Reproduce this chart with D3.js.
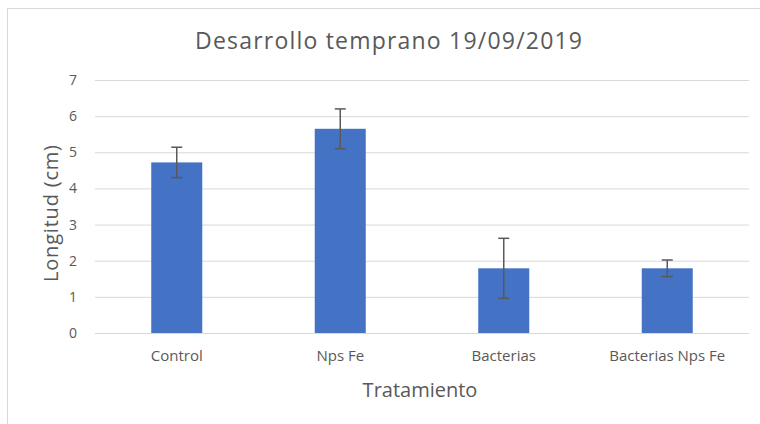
<!DOCTYPE html>
<html>
<head>
<meta charset="utf-8">
<script src="https://cdn.jsdelivr.net/npm/d3@7"></script>
<style>
  body { margin: 0; background: #fff; overflow: hidden; }
  svg { font-family: "Open Sans", sans-serif; display: block; }
</style>
</head>
<body>
<svg></svg>
<script>
const width = 760;
const height = 424;

// data
const categories = ["Control", "Nps Fe", "Bacterias", "Bacterias Nps Fe"];
const means = [4.72, 5.65, 1.79, 1.79];
const errors = [0.42, 0.55, 0.83, 0.23];
const yTicks = [0, 1, 2, 3, 4, 5, 6, 7];

const plotLeft = 95;
const plotRight = 749;
const plotTop = 80;
const plotBottom = 333;

const svg = d3.select("svg")
  .attr("width", width)
  .attr("height", height);

// chart frame
svg.append("rect")
  .attr("x", 7.5)
  .attr("y", 8.5)
  .attr("width", width)
  .attr("height", height)
  .attr("fill", "#fff")
  .attr("stroke", "#d9d9d9");

var xScale = d3
  .scaleBand()
  .domain(categories)
  .range([plotLeft, plotRight])
  .paddingInner(0.688)
  .paddingOuter(0.344);

var yScale = d3
  .scaleLinear()
  .domain([0, 7])
  .range([plotBottom, plotTop]);

// gridlines + tick labels
var yAxis = d3
  .axisLeft(yScale)
  .tickValues(yTicks)
  .tickSize(-(plotRight - plotLeft))
  .tickPadding(18)
  .tickFormat(d3.format("d"));

svg.append("g")
  .attr("transform", `translate(${plotLeft}, 0)`)
  .call(yAxis)
  .attr("font-family", "Open Sans, sans-serif")
  .call(g => g.select(".domain").remove())
  .call(g => g.selectAll(".tick line").attr("stroke", "#d9d9d9").attr("stroke-width", 1))
  .call(g => g.selectAll(".tick text").attr("fill", "#595959").style("font-size", "14px"));

// bars
svg.append("g")
  .selectAll("rect")
  .data(categories)
  .enter()
  .append("rect")
  .attr("x", d => xScale(d))
  .attr("y", (d, i) => yScale(means[i]))
  .attr("width", xScale.bandwidth())
  .attr("height", (d, i) => yScale(0) - yScale(means[i]))
  .attr("fill", "#4472c4");

// error bars
const err = svg.append("g")
  .attr("stroke", "#595959")
  .attr("stroke-width", 1.5)
  .selectAll("g")
  .data(categories)
  .enter()
  .append("g")
  .attr("transform", d => `translate(${xScale(d) + xScale.bandwidth() / 2}, 0)`);

err.append("line")
  .attr("y1", (d, i) => yScale(means[i] + errors[i]))
  .attr("y2", (d, i) => yScale(means[i] - errors[i]));
err.append("line")
  .attr("x1", -5.5).attr("x2", 5.5)
  .attr("y1", (d, i) => yScale(means[i] + errors[i]))
  .attr("y2", (d, i) => yScale(means[i] + errors[i]));
err.append("line")
  .attr("x1", -5.5).attr("x2", 5.5)
  .attr("y1", (d, i) => yScale(means[i] - errors[i]))
  .attr("y2", (d, i) => yScale(means[i] - errors[i]));

// category labels
var xAxis = d3
  .axisBottom(xScale)
  .tickSize(0)
  .tickPadding(17);

svg.append("g")
  .attr("transform", `translate(0, ${plotBottom})`)
  .call(xAxis)
  .attr("font-family", "Open Sans, sans-serif")
  .call(g => g.select(".domain").remove())
  .call(g => g.selectAll(".tick text").attr("fill", "#595959").style("font-size", "15px"));

// titles
svg.append("text")
  .attr("x", 388.5)
  .attr("y", 48.5)
  .attr("textLength", 387)
  .attr("lengthAdjust", "spacing")
  .style("text-anchor", "middle")
  .style("font-size", "23px")
  .attr("fill", "#595959")
  .text("Desarrollo temprano 19/09/2019");

svg.append("text")
  .attr("x", 420)
  .attr("y", 397)
  .style("text-anchor", "middle")
  .style("font-size", "20px")
  .attr("fill", "#595959")
  .text("Tratamiento");

svg.append("text")
  .attr("x", -213.5)
  .attr("y", 58)
  .attr("transform", "rotate(-90)")
  .attr("textLength", 137)
  .attr("lengthAdjust", "spacing")
  .style("text-anchor", "middle")
  .style("font-size", "20px")
  .attr("fill", "#595959")
  .text("Longitud (cm)");
</script>
</body>
</html>
